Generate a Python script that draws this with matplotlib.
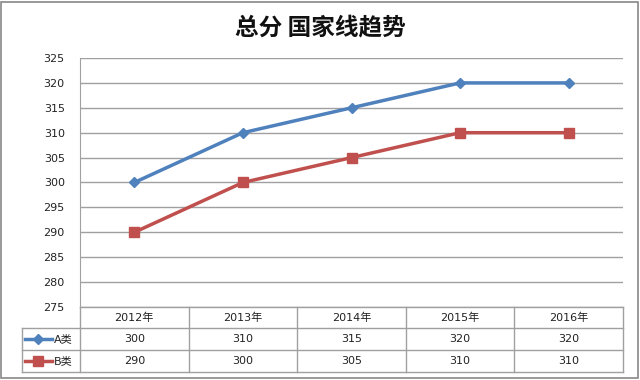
import matplotlib
matplotlib.use("Agg")
import matplotlib.pyplot as plt
from matplotlib.lines import Line2D
from matplotlib.patches import Rectangle

plt.rcParams['font.family'] = ['DejaVu Sans', 'Noto Sans CJK SC']

title = "总分 国家线趋势"
categories = ["2012年", "2013年", "2014年", "2015年", "2016年"]
series_names = ["A类", "B类"]
a_values = [300, 310, 315, 320, 320]
b_values = [290, 300, 305, 310, 310]
y_ticks = [275, 280, 285, 290, 295, 300, 305, 310, 315, 320, 325]

colors = ["#4F81BD", "#C0504D"]
markers = ["D", "s"]
msizes = [5, 7]

W, H = 640, 380
fig = plt.figure(figsize=(W/100, H/100), dpi=100)

def fx(px):
    return px / W

def fy(py):
    return 1 - py / H

left, right, top, bottom = 80, 623, 58, 307
ax = fig.add_axes([fx(left), fy(bottom), fx(right) - fx(left), fy(top) - fy(bottom)])
n = len(categories)
xs = list(range(n))
for vals, c, m, ms in zip([a_values, b_values], colors, markers, msizes):
    ax.plot(xs, vals, color=c, lw=2.5, marker=m, markersize=ms, zorder=3)
ax.set_xlim(-0.5, n - 0.5)
ax.set_ylim(min(y_ticks), max(y_ticks))
ax.set_yticks(y_ticks)
ax.set_yticklabels([str(v) for v in y_ticks], fontsize=8, color="#222222")
ax.tick_params(axis='y', length=0, pad=11)
ax.set_xticks([])
ax.grid(axis='y', color="#A0A0A0", lw=1)
ax.set_axisbelow(True)
for s in ['top', 'right', 'bottom']:
    ax.spines[s].set_visible(False)
ax.spines['left'].set_color("#A0A0A0")

# Title
fig.text(0.5, fy(27), title, ha='center', va='center', fontsize=17,
         fontweight='bold', color="#111111", family=['Noto Sans CJK SC', 'DejaVu Sans'])

# Data table
y0 = bottom
y1 = 328
y2 = 350
y3 = 372
tleft = 22
lc = "#A0A0A0"
col_w = (right - left) / n
def hline(x0, x1, y):
    fig.add_artist(Line2D([fx(x0), fx(x1)], [fy(y), fy(y)], color=lc, lw=1))
def vline(x, ya, yb):
    fig.add_artist(Line2D([fx(x), fx(x)], [fy(ya), fy(yb)], color=lc, lw=1))

hline(left, right, y0)
hline(tleft, right, y1)
hline(tleft, right, y2)
hline(tleft, right, y3)
for i in range(n + 1):
    vline(left + i * col_w, y0, y3)
vline(tleft, y1, y3)

for i, cat in enumerate(categories):
    cx = left + (i + 0.5) * col_w
    fig.text(fx(cx), fy((y0 + y1) / 2), cat, ha='center', va='center', fontsize=8, color="#222222")
rows_y = [(y1 + y2) / 2, (y2 + y3) / 2]
for yc, name, vals, c, m, ms in zip(rows_y, series_names, [a_values, b_values], colors, markers, msizes):
    fig.add_artist(Line2D([fx(25), fx(52)], [fy(yc), fy(yc)], color=c, lw=2.5))
    fig.add_artist(Line2D([fx(38)], [fy(yc)], color=c, marker=m, markersize=ms, lw=0))
    fig.text(fx(54), fy(yc), name, ha='left', va='center', fontsize=8, color="#222222")
    for i, v in enumerate(vals):
        cx = left + (i + 0.5) * col_w
        fig.text(fx(cx), fy(yc), str(v), ha='center', va='center', fontsize=8, color="#222222")

# Outer border
fig.add_artist(Rectangle((fx(1), fy(378)), fx(637), 376/H, fill=False, edgecolor="#888888", lw=1.2))

fig.savefig("out.png", dpi=100)
